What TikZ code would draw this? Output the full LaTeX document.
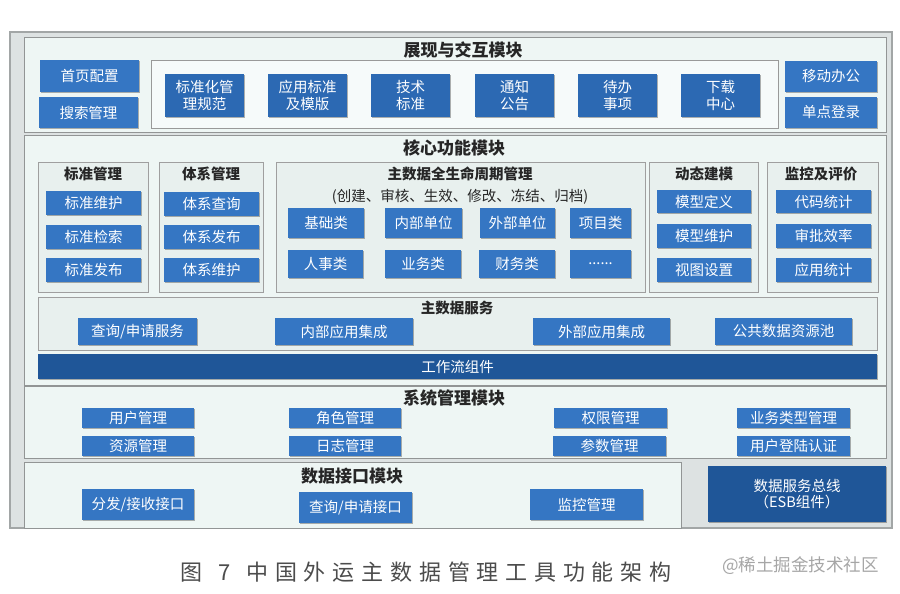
\documentclass[tikz,border=0pt]{standalone}
\usepackage{fontspec}
\setmainfont{Noto Sans CJK SC}
\usetikzlibrary{shadows}
\definecolor{itemblue}{HTML}{3576C3}
\definecolor{topblue}{HTML}{2C69B3}
\definecolor{darkblue}{HTML}{1F5698}
\definecolor{modfill}{HTML}{EEF6F4}
\definecolor{subfill}{HTML}{E8F0EE}
\definecolor{framefill}{HTML}{DDE2E2}
\definecolor{framedraw}{HTML}{A2A6A6}
\definecolor{titletext}{HTML}{262626}
\newcommand\bx[7][]{\node[#1, minimum width={(#5-#3)*1pt}, minimum height={(#6-#4)*1pt}] (#2) at ({(#3+#5)/2},{(#4+#6)/2}) {#7};}
\tikzset{
  base/.style={rectangle, inner sep=0pt, outer sep=0pt},
  frame/.style={base, fill=framefill, draw=framedraw, line width=1.2pt},
  module/.style={base, fill=modfill, draw=framedraw!90!black, line width=1pt},
  inbox/.style={base, fill=modfill!50!white, draw=gray!80, line width=0.9pt},
  subbox/.style={base, fill=subfill, draw=gray!75, line width=0.9pt},
  item/.style={base, fill=itemblue, text=white, font=\fontsize{14.5}{16.5}\selectfont, align=center,
    drop shadow={shadow xshift=1.2pt, shadow yshift=-1.2pt, fill=black, opacity=0.3}},
  topitem/.style={item, fill=topblue},
  darkitem/.style={item, fill=darkblue},
  modtitle/.style={inner sep=0pt, text=titletext, font=\fontsize{17}{19}\selectfont\bfseries},
  subtitle/.style={inner sep=0pt, text=titletext, font=\fontsize{14.5}{16}\selectfont\bfseries},
  note/.style={inner sep=0pt, text=titletext, font=\fontsize{14.5}{16}\selectfont},
}
\begin{document}
\begin{tikzpicture}[x=1pt,y=-1pt]
\useasboundingbox (0,0) rectangle (900,594);
\fill[white] (0,0) rectangle (900,594);
% outer frame
\bx[frame]{outer}{10}{32}{892}{528}{}
% modules
\bx[module]{mtop}{24}{38}{886}{132}{}
\bx[module]{mcore}{24}{135}{886}{385}{}
\bx[module]{msys}{24}{386}{886}{458}{}
\bx[module]{mdata}{24}{462}{681}{528}{}
\bx[darkitem]{esb}{708}{466}{886}{522}{数据服务总线\\（ESB组件）}
% top module
\node[modtitle] (ttop) at (463,50) {展现与交互模块};
\bx[item]{shouye}{40}{60}{139}{92}{首页配置}
\bx[item]{sousuo}{39}{97}{138}{128}{搜索管理}
\bx[inbox]{topin}{151}{60}{778}{128}{}
\bx[topitem]{t1}{165}{74}{244}{117}{标准化管\\理规范}
\bx[topitem]{t2}{268}{74}{347}{117}{应用标准\\及模版}
\bx[topitem]{t3}{371}{74}{450}{117}{技术\\标准}
\bx[topitem]{t4}{475}{74}{554}{117}{通知\\公告}
\bx[topitem]{t5}{578}{74}{657}{117}{待办\\事项}
\bx[topitem]{t6}{681}{74}{760}{117}{下载\\中心}
\bx[item]{yidong}{785}{61}{877}{92}{移动办公}
\bx[item]{dandian}{785}{97}{877}{128}{单点登录}
% core module
\node[modtitle] (tcore) at (454,148) {核心功能模块};
\bx[subbox]{s1}{38}{162}{148}{292}{}
\node[subtitle] at (93,174) {标准管理};
\bx[item]{s1a}{46}{191}{141}{215}{标准维护}
\bx[item]{s1b}{46}{225}{141}{249}{标准检索}
\bx[item]{s1c}{46}{258}{141}{282}{标准发布}
\bx[subbox]{s2}{159}{162}{263}{292}{}
\node[subtitle] at (211,174) {体系管理};
\bx[item]{s2a}{164}{192}{259}{216}{体系查询}
\bx[item]{s2b}{164}{225}{259}{249}{体系发布}
\bx[item]{s2c}{164}{258}{259}{282}{体系维护}
\bx[subbox]{s3}{276}{162}{645}{292}{}
\node[subtitle] at (460,174) {主数据全生命周期管理};
\node[note] at (460,197) {(创建、审核、生效、修改、冻结、归档)};
\bx[item]{m1}{288}{208}{364}{238}{基础类}
\bx[item]{m2}{385}{208}{462}{238}{内部单位}
\bx[item]{m3}{480}{208}{555}{238}{外部单位}
\bx[item]{m4}{570}{208}{631}{238}{项目类}
\bx[item]{m5}{288}{250}{363}{278}{人事类}
\bx[item]{m6}{385}{250}{461}{278}{业务类}
\bx[item]{m7}{479}{250}{555}{278}{财务类}
\bx[item]{m8}{570}{250}{631}{278}{......}
\bx[subbox]{s4}{649}{162}{758}{292}{}
\node[subtitle] at (704,174) {动态建模};
\bx[item]{s4a}{657}{190}{751}{213}{模型定义}
\bx[item]{s4b}{657}{224}{751}{248}{模型维护}
\bx[item]{s4c}{657}{258}{751}{282}{视图设置}
\bx[subbox]{s5}{767}{162}{878}{292}{}
\node[subtitle] at (821,174) {监控及评价};
\bx[item]{s5a}{776}{190}{871}{213}{代码统计}
\bx[item]{s5b}{776}{224}{871}{248}{审批效率}
\bx[item]{s5c}{776}{258}{871}{282}{应用统计}
% master data service
\bx[subbox]{svc}{38}{297}{877}{350}{}
\node[subtitle] at (457,308) {主数据服务};
\bx[item]{v1}{78}{318}{197}{345}{查询/申请服务}
\bx[item]{v2}{275}{318}{413}{345}{内部应用集成}
\bx[item]{v3}{533}{318}{670}{345}{外部应用集成}
\bx[item]{v4}{715}{318}{852}{345}{公共数据资源池}
\bx[darkitem]{wf}{38}{354}{877}{379}{工作流组件}
% system module
\node[modtitle] (tsys) at (454,398) {系统管理模块};
\bx[item]{y1}{82}{408}{194}{428}{用户管理}
\bx[item]{y2}{82}{436}{194}{456}{资源管理}
\bx[item]{y3}{289}{408}{401}{428}{角色管理}
\bx[item]{y4}{289}{436}{401}{456}{日志管理}
\bx[item]{y5}{554}{408}{667}{428}{权限管理}
\bx[item]{y6}{553}{436}{666}{456}{参数管理}
\bx[item]{y7}{737}{408}{850}{428}{业务类型管理}
\bx[item]{y8}{737}{436}{850}{456}{用户登陆认证}
% data interface module
\node[modtitle] (tdata) at (352,476) {数据接口模块};
\bx[item]{d1}{82}{489}{194}{520}{分发/接收接口}
\bx[item]{d2}{299}{492}{412}{523}{查询/申请接口}
\bx[item]{d3}{530}{489}{643}{520}{监控管理}
% caption
\node[inner sep=0pt, text=black!70, font=\fontsize{22}{24}\selectfont, anchor=west] (cap) at (180,572)
  {图\kern16pt 7\kern16pt 中\kern6.8pt 国\kern6.8pt 外\kern6.8pt 运\kern6.8pt 主\kern6.8pt 数\kern6.8pt 据\kern6.8pt 管\kern6.8pt 理\kern6.8pt 工\kern6.8pt 具\kern6.8pt 功\kern6.8pt 能\kern6.8pt 架\kern6.8pt 构};
\node[inner sep=0pt, text=black!35, font=\fontsize{17.5}{19}\selectfont, anchor=west] (wm) at (722,566) {@稀土掘金技术社区};
\end{tikzpicture}
\end{document}
